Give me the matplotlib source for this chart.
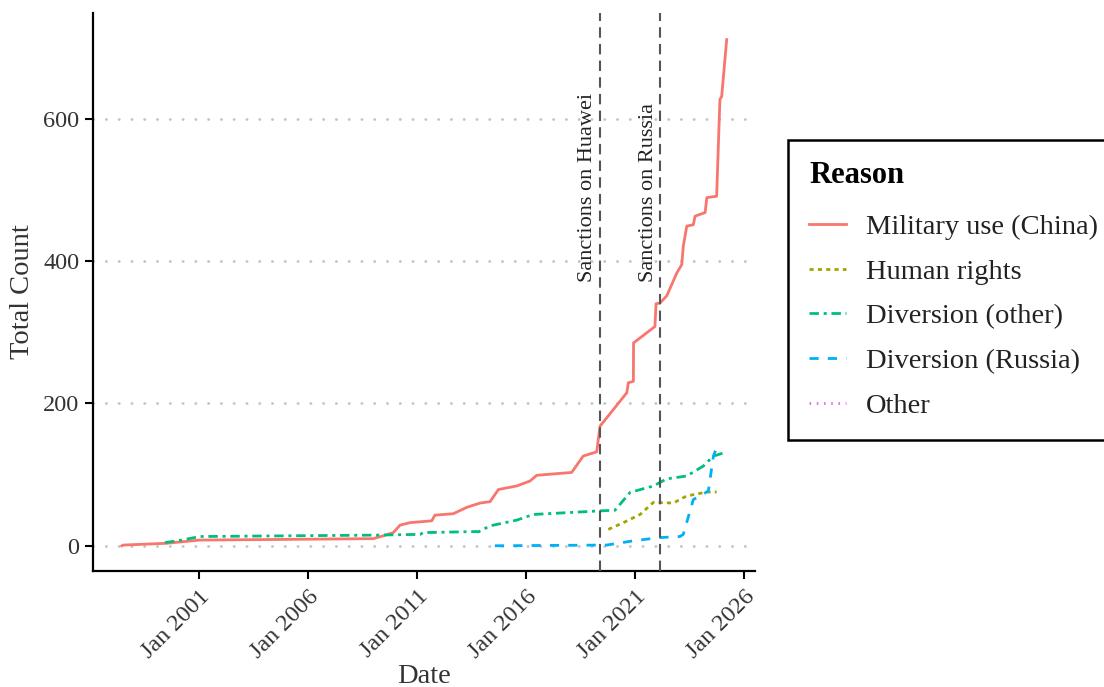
import matplotlib
matplotlib.use('Agg')
import matplotlib.pyplot as plt

plt.rcParams['font.family'] = ['Liberation Serif', 'DejaVu Serif']

# Datos (anio decimal, conteo acumulado)
militarAnios = [1997.45, 1997.52, 1999.50, 2001.03, 2005.16, 2008.98, 2009.44, 2009.90, 2010.21, 2010.67,
                2011.66, 2011.81, 2012.65, 2013.27, 2013.88, 2014.34, 2014.72, 2015.56, 2016.17, 2016.48,
                2018.08, 2018.61, 2019.23, 2019.38, 2020.61, 2020.68, 2020.91, 2020.92, 2021.90, 2021.95,
                2022.13, 2022.44, 2022.90, 2023.13, 2023.20, 2023.36, 2023.66, 2023.74, 2024.20, 2024.28,
                2024.73, 2024.88, 2024.96, 2025.19]
militarValores = [0, 1, 3.5, 8, 9, 10, 14, 18.5, 29, 32.5,
                  35, 43, 45, 54, 60, 62, 79, 84, 91, 99,
                  103, 126, 132, 168, 215, 229, 231, 285, 308, 340,
                  341, 351, 383, 395, 421, 449, 451, 463, 468, 489,
                  491, 627, 631, 711]

derechosAnios = [2019.76, 2020.45, 2021.22, 2021.83, 2022.74, 2023.36, 2024.28, 2024.73]
derechosValores = [23, 32.5, 44, 61, 60, 70, 75.5, 75.5]

desvioOtroAnios = [1999.43, 2000.20, 2001.03, 2009.14, 2011.13, 2011.28, 2013.72, 2013.80, 2014.34, 2015.56,
                   2016.32, 2019.38, 2020.07, 2020.76, 2021.83, 2022.44, 2023.36, 2024.12, 2024.58, 2025.11]
desvioOtroValores = [4.5, 8, 13, 15, 16, 18.5, 20, 19.5, 28, 36,
                     44, 49, 50, 75, 84, 94, 98, 112, 126, 131]

desvioRusiaAnios = [2014.56, 2019.69, 2020.91, 2022.13, 2023.05, 2023.20, 2023.66, 2023.97, 2024.35, 2024.58, 2024.73]
desvioRusiaValores = [0, 1, 7, 11.5, 13, 16, 65, 70, 77, 126, 138]

otroAnios = []
otroValores = []

sanciones = [2019.37, 2022.15]
sancionesTexto = ['Sanctions on Huawei', 'Sanctions on Russia']

anioTicks = [2001, 2006, 2011, 2016, 2021, 2026]
etiquetasTicks = ['Jan ' + str(a) for a in anioTicks]
conteoTicks = [0, 200, 400, 600]

fig = plt.figure(figsize=(11.04, 6.87), dpi=100)
ax = fig.add_axes([0.0845, 0.1693, 0.5994, 0.8114])

for y in conteoTicks:
    ax.axhline(y, color='#c4c4c4', linewidth=2, linestyle=(0, (0.1, 4.5)), dash_capstyle='round', zorder=0)

grosor = 2.0
ax.plot(militarAnios, militarValores, color='#F8766D', linewidth=grosor, label='Military use (China)')
ax.plot(derechosAnios, derechosValores, color='#A3A500', linewidth=grosor, linestyle=(0, (1.5, 1.5)), label='Human rights')
ax.plot(desvioOtroAnios, desvioOtroValores, color='#00BF7D', linewidth=grosor, linestyle=(0, (3.4, 1.7, 1.1, 1.7)), label='Diversion (other)')
ax.plot(desvioRusiaAnios, desvioRusiaValores, color='#00B0F6', linewidth=grosor, linestyle=(0, (3.3, 3.3)), label='Diversion (Russia)')
ax.plot(otroAnios, otroValores, color='#E76BF3', linewidth=grosor, linestyle=(0, (0.6, 2.0)), label='Other')

for anio, texto in zip(sanciones, sancionesTexto):
    ax.axvline(anio, color='#555555', linewidth=1.5, linestyle=(0, (5, 3)), zorder=3)
    ax.annotate(texto, xy=(anio, 370), xytext=(-2, 0), textcoords='offset points',
                rotation=90, ha='right', va='bottom', fontsize=16, color='#222222')

ax.set_xlim(1996.14, 2026.49)
ax.set_ylim(-35, 748)
ax.set_xticks(anioTicks)
ax.set_xticklabels(etiquetasTicks, rotation=45, ha='right', va='top', rotation_mode='anchor')
ax.set_yticks(conteoTicks)

for lado in ['top', 'right']:
    ax.spines[lado].set_visible(False)
for lado in ['left', 'bottom']:
    ax.spines[lado].set_linewidth(1.6)
ax.tick_params(axis='both', length=6, width=1.5, labelsize=17.5, colors='black', labelcolor='#333333')
ax.tick_params(axis='x', pad=5)
ax.tick_params(axis='y', pad=4)

ax.set_xlabel('Date', fontsize=20.5, color='#333333', labelpad=1)
ax.set_ylabel('Total Count', fontsize=20.5, color='#333333', labelpad=6)

leyenda = ax.legend(title='Reason', loc='upper left', bbox_to_anchor=(788 / 1104, 1 - 140 / 687),
                    bbox_transform=fig.transFigure, borderaxespad=0, fontsize=20.5,
                    title_fontproperties={'weight': 'bold', 'size': 22}, alignment='left',
                    handlelength=1.3, handletextpad=0.7, labelspacing=0.66, borderpad=0.75,
                    fancybox=False, framealpha=1, edgecolor='black')
leyenda._legend_box.sep = 17
leyenda.get_frame().set_linewidth(1.8)
for t in leyenda.get_texts():
    t.set_color('#222222')

fig.savefig('out.png', dpi=100)
